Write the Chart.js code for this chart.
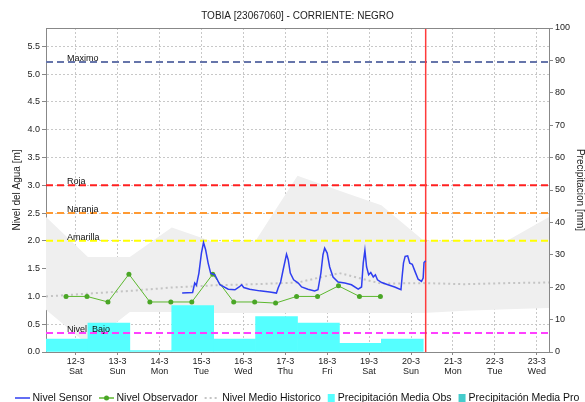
<!DOCTYPE html>
<html>
<head>
<meta charset="utf-8">
<title>TOBIA [23067060] - CORRIENTE: NEGRO</title>
<script src="https://cdn.jsdelivr.net/npm/chart.js@4.4.0/dist/chart.umd.min.js"></script>
<style>
    html, body { margin: 0; padding: 0; background: #ffffff; }
    #wrap { width: 585px; height: 402px; }
</style>
</head>
<body>
<div id="wrap"><canvas id="nivelChart" width="585" height="402"></canvas></div>
<script>
// Time axis is in days counted from 12-3 00:00
const dayTicks = [0, 1, 2, 3, 4, 5, 6, 7, 8, 9, 10, 11];
const dayLabels = ['12-3', '13-3', '14-3', '15-3', '16-3', '17-3', '18-3', '19-3', '20-3', '21-3', '22-3', '23-3'];
const weekDays = ['Sat', 'Sun', 'Mon', 'Tue', 'Wed', 'Thu', 'Fri', 'Sat', 'Sun', 'Mon', 'Tue', 'Wed'];
const axisStart = -0.708;   // 11-3 07:00
const axisEnd = 11.292;     // 23-3 07:00
const nowDay = 8.35;        // 20-3 08:24

const levelTicks = [0, 0.5, 1, 1.5, 2, 2.5, 3, 3.5, 4, 4.5, 5, 5.5];
const levelMax = 5.83;
const rainTicks = [0, 10, 20, 30, 40, 50, 60, 70, 80, 90, 100];

// Nivel Sensor
const sensorDays = [2.54, 2.79, 2.84, 2.88, 2.94, 3.00, 3.05, 3.10, 3.16, 3.22, 3.32, 3.44, 3.64, 3.80, 3.90, 3.96,
    4.01, 4.15, 4.39, 4.63, 4.79, 4.83, 4.89, 4.95, 4.99, 5.03, 5.07, 5.12, 5.20, 5.31, 5.39, 5.54, 5.70, 5.78,
    5.85, 5.90, 5.94, 6.00, 6.06, 6.14, 6.26, 6.42, 6.58, 6.74, 6.82, 6.86, 6.90, 6.94, 6.99, 7.04, 7.10, 7.15,
    7.20, 7.30, 7.45, 7.61, 7.76, 7.79, 7.82, 7.86, 7.92, 7.97, 8.03, 8.09, 8.17, 8.25, 8.29, 8.31, 8.35];
const sensorLevels = [1.06, 1.07, 1.24, 1.20, 1.42, 1.78, 1.97, 1.84, 1.60, 1.42, 1.39, 1.21, 1.13, 1.12, 1.17, 1.21,
    1.16, 1.13, 1.10, 1.08, 1.06, 1.15, 1.26, 1.48, 1.62, 1.76, 1.66, 1.42, 1.30, 1.24, 1.17, 1.13, 1.10, 1.12,
    1.42, 1.75, 1.87, 1.78, 1.53, 1.35, 1.26, 1.24, 1.21, 1.13, 1.17, 1.60, 1.83, 1.53, 1.39, 1.43, 1.35, 1.39,
    1.30, 1.25, 1.21, 1.17, 1.12, 1.37, 1.60, 1.72, 1.73, 1.60, 1.58, 1.46, 1.31, 1.27, 1.33, 1.61, 1.64];

// Nivel Observador (06:30 / 18:30 readings)
const obsDays = [-0.23, 0.27, 0.77, 1.27, 1.77, 2.27, 2.77, 3.27, 3.77, 4.27, 4.77, 5.27, 5.77, 6.27, 6.77, 7.27];
const obsLevels = [1.0, 1.0, 0.9, 1.4, 0.9, 0.9, 0.9, 1.4, 0.9, 0.9, 0.88, 1.0, 1.0, 1.19, 1.0, 1.0];

// Historic band and mean, one value per day at 07:00
const histDays = [-0.708, 0.292, 1.292, 2.292, 3.292, 4.292, 5.292, 6.292, 7.292, 8.292, 9.292, 10.292, 11.292];
const histUpper = [2.43, 1.71, 1.71, 2.24, 1.98, 2.0, 3.17, 2.9, 2.64, 2.01, 2.0, 2.0, 2.43];
const histLower = [0.76, 0.13, 0.72, 0.72, 0.7, 0.7, 0.7, 0.7, 0.7, 0.7, 0.74, 0.77, 0.79];
const histMean = [1.0, 1.05, 1.1, 1.16, 1.2, 1.22, 1.25, 1.42, 1.23, 1.24, 1.22, 1.24, 1.25];

// Daily rain, 07:00 to 07:00, plotted at the middle of each day
const rainDays = [-0.208, 0.792, 1.792, 2.792, 3.792, 4.792, 5.792, 6.792, 7.792];
const rainObs = [4.0, 8.9, 0.4, 14.3, 4.0, 10.9, 8.9, 2.7, 4.0];

const alertNames = ['Maximo', 'Roja', 'Naranja', 'Amarilla', 'Nivel  Bajo'];
const alertLevels = [5.22, 3.0, 2.5, 2.0, 0.34];
const alertColors = ['#6675aa', '#ff2020', '#ff9a33', '#ffff00', '#ff40ff'];

const FONT = '"Liberation Sans", Arial, sans-serif';
const SENSOR_COLOR = '#2f3ef0';
const OBS_COLOR = '#5cb82e';
const MEAN_COLOR = '#c4c4c4';
const GRID_COLOR = '#c8c8c8';
const AXIS_COLOR = '#888888';

Chart.defaults.font.family = FONT;
Chart.defaults.color = '#222222';

const pairs = (xs, ys) => xs.map((x, i) => ({ x: x, y: ys[i] }));

const alertSets = alertLevels.map((v, i) => ({
    label: alertNames[i],
    data: [{ x: axisStart, y: v }, { x: axisEnd, y: v }],
    borderColor: alertColors[i],
    borderWidth: 2,
    borderDash: [7, 4],
    pointRadius: 0,
    yAxisID: 'y',
    order: 10
}));

// draws frame top, alert labels and the one-row legend
const decorations = {
    id: 'decorations',
    afterDatasetsDraw(chart) {
        const { ctx, chartArea: a, scales } = chart;
        ctx.save();
        ctx.strokeStyle = AXIS_COLOR;
        ctx.lineWidth = 1;
        ctx.beginPath();
        ctx.moveTo(a.left, Math.round(a.top) + 0.5);
        ctx.lineTo(a.right, Math.round(a.top) + 0.5);
        ctx.stroke();

        ctx.font = '9px ' + FONT;
        ctx.fillStyle = '#111111';
        ctx.textBaseline = 'bottom';
        ctx.textAlign = 'left';
        alertNames.forEach((name, i) => {
            ctx.fillText(name, a.left + 21, scales.y.getPixelForValue(alertLevels[i]) + 1);
        });
        ctx.restore();
    },
    afterDraw(chart) {
        const ctx = chart.ctx;
        const y = 398;
        let x = 15;
        ctx.save();
        ctx.font = '10.5px ' + FONT;
        ctx.textBaseline = 'middle';
        ctx.textAlign = 'left';
        chart.data.datasets.filter(ds => ds.legendKind).forEach(ds => {
            const kind = ds.legendKind;
            if (kind === 'box') {
                ctx.fillStyle = ds.backgroundColor;
                ctx.fillRect(x, y - 4, 7, 8);
                x += 10;
            } else {
                ctx.strokeStyle = ds.borderColor;
                ctx.lineWidth = kind === 'dash' ? 2 : 1.5;
                ctx.setLineDash(kind === 'dash' ? [2, 3] : []);
                ctx.beginPath();
                ctx.moveTo(x, y);
                ctx.lineTo(x + 15, y);
                ctx.stroke();
                ctx.setLineDash([]);
                if (kind === 'dot') {
                    ctx.fillStyle = ds.pointBackgroundColor;
                    ctx.beginPath();
                    ctx.arc(x + 7.5, y, 2.5, 0, Math.PI * 2);
                    ctx.fill();
                }
                x += 17.5;
            }
            ctx.fillStyle = '#111111';
            ctx.fillText(ds.label, x, y);
            x += ctx.measureText(ds.label).width + 7;
        });
        ctx.restore();
    }
};

const ctx = document.getElementById('nivelChart').getContext('2d');

new Chart(ctx, {
    type: 'line',
    data: {
        datasets: [
            {
                label: 'Nivel Sensor',
                legendKind: 'line',
                data: pairs(sensorDays, sensorLevels),
                borderColor: SENSOR_COLOR,
                borderWidth: 1.5,
                pointRadius: 0,
                tension: 0,
                yAxisID: 'y',
                order: 1
            },
            {
                label: 'Nivel Observador',
                legendKind: 'dot',
                data: pairs(obsDays, obsLevels),
                borderColor: OBS_COLOR,
                borderWidth: 1,
                pointRadius: 2.5,
                pointBackgroundColor: '#4aa626',
                pointBorderWidth: 0,
                yAxisID: 'y',
                order: 2
            },
            {
                label: 'Nivel Medio Historico',
                legendKind: 'dash',
                data: pairs(histDays, histMean),
                borderColor: MEAN_COLOR,
                borderWidth: 2,
                borderDash: [2, 3],
                pointRadius: 0,
                yAxisID: 'y',
                order: 12
            },
            {
                type: 'bar',
                label: 'Precipitación Media Obs',
                legendKind: 'box',
                data: pairs(rainDays, rainObs),
                backgroundColor: '#55ffff',
                borderWidth: 0,
                barPercentage: 1,
                categoryPercentage: 1,
                grouped: false,
                yAxisID: 'y2',
                order: 15
            },
            {
                type: 'bar',
                label: 'Precipitación Media Pro',
                legendKind: 'box',
                data: [],
                backgroundColor: '#44cccc',
                borderWidth: 0,
                grouped: false,
                yAxisID: 'y2',
                order: 16
            },
            {
                label: 'Banda historica max',
                data: pairs(histDays, histUpper),
                borderColor: 'rgba(0,0,0,0)',
                backgroundColor: '#efefef',
                borderWidth: 0,
                pointRadius: 0,
                fill: '+1',
                yAxisID: 'y',
                order: 20
            },
            {
                label: 'Banda historica min',
                data: pairs(histDays, histLower),
                borderColor: 'rgba(0,0,0,0)',
                borderWidth: 0,
                pointRadius: 0,
                fill: false,
                yAxisID: 'y',
                order: 21
            },
            ...alertSets,
            {
                label: 'Ahora',
                data: [{ x: nowDay, y: 0 }, { x: nowDay, y: levelMax }],
                borderColor: '#ff3b3b',
                borderWidth: 1.5,
                pointRadius: 0,
                yAxisID: 'y',
                order: 9
            }
        ]
    },
    options: {
        responsive: false,
        animation: false,
        events: [],
        layout: {
            padding: { left: 0, right: 0, top: 0, bottom: 18 }
        },
        scales: {
            x: {
                type: 'linear',
                min: axisStart,
                max: axisEnd,
                offset: false,
                afterBuildTicks: s => { s.ticks = dayTicks.map(v => ({ value: v })); },
                afterFit: s => { s.height = 32; },
                ticks: {
                    autoSkip: false,
                    maxRotation: 0,
                    minRotation: 0,
                    padding: 2,
                    color: '#222222',
                    font: { size: 9, lineHeight: 1.1 },
                    callback: function(value) {
                        const i = dayTicks.indexOf(value);
                        return i < 0 ? '' : [dayLabels[i], weekDays[i]];
                    }
                },
                grid: {
                    offset: false,
                    color: GRID_COLOR,
                    tickColor: AXIS_COLOR,
                    tickLength: 3,
                    tickBorderDash: []
                },
                border: { color: AXIS_COLOR, dash: [2, 2] }
            },
            y: {
                position: 'left',
                min: 0,
                max: levelMax,
                afterBuildTicks: s => { s.ticks = levelTicks.map(v => ({ value: v })); },
                afterFit: s => { s.width = 46; },
                ticks: {
                    padding: 2,
                    color: '#222222',
                    font: { size: 9 },
                    callback: v => v.toFixed(1)
                },
                grid: {
                    color: GRID_COLOR,
                    tickColor: AXIS_COLOR,
                    tickLength: 4,
                    tickBorderDash: []
                },
                border: { color: AXIS_COLOR, dash: [2, 2] },
                title: {
                    display: true,
                    text: 'Nivel del Agua [m]',
                    color: '#222222',
                    font: { size: 10 },
                    padding: { top: 11, bottom: 0 }
                }
            },
            y2: {
                position: 'right',
                min: 0,
                max: 100,
                afterBuildTicks: s => { s.ticks = rainTicks.map(v => ({ value: v })); },
                afterFit: s => { s.width = 36; },
                ticks: {
                    padding: 2,
                    color: '#222222',
                    font: { size: 9 }
                },
                grid: {
                    drawOnChartArea: false,
                    tickColor: AXIS_COLOR,
                    tickLength: 4,
                    tickBorderDash: []
                },
                border: { color: AXIS_COLOR },
                title: {
                    display: true,
                    text: 'Precipitacion [mm]',
                    color: '#222222',
                    font: { size: 10, lineHeight: 1 },
                    padding: { top: 0, bottom: 0 }
                }
            }
        },
        plugins: {
            legend: { display: false },
            tooltip: { enabled: false },
            title: {
                display: true,
                fullSize: false,
                text: 'TOBIA [23067060] - CORRIENTE: NEGRO',
                color: '#222222',
                font: { size: 10, weight: 'normal' },
                padding: { top: 10, bottom: 6 }
            }
        }
    },
    plugins: [decorations]
});
</script>
</body>
</html>
